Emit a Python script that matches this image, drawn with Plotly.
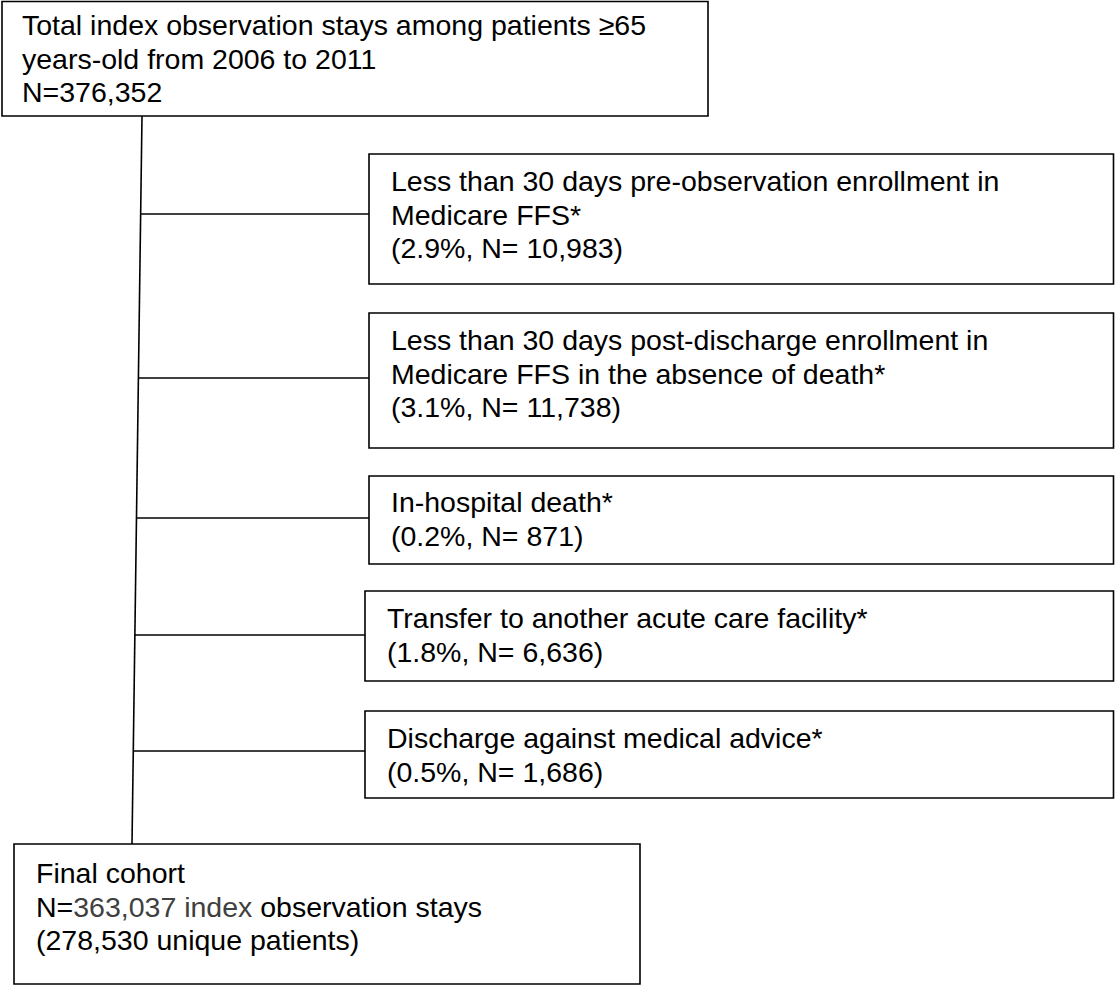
import plotly.graph_objects as go

# ---------------- data ----------------
total_lines = ["Total index observation stays among patients \u226565",
               "years-old from 2006 to 2011"]
total_n = "376,352"

exclusion_labels = [
    ["Less than 30 days pre-observation enrollment in", "Medicare FFS*"],
    ["Less than 30 days post-discharge enrollment in", "Medicare FFS in the absence of death*"],
    ["In-hospital death*"],
    ["Transfer to another acute care facility*"],
    ["Discharge against medical advice*"],
]
exclusion_pct = ["2.9%", "3.1%", "0.2%", "1.8%", "0.5%"]
exclusion_n = ["10,983", "11,738", "871", "6,636", "1,686"]

final_label = "Final cohort"
final_n = "363,037"
final_unique = "278,530"

# ---------------- layout geometry (page pixels) ----------------
W, H = 1115, 986
FONT = 28.5
LINE = 33.5
top_box = (2, 1.5, 708, 116)
top_text = (21, 35)
excl_boxes = [(369, 154, 1113.5, 284), (369, 313, 1113.5, 448), (369, 476, 1113.5, 564),
              (365, 591, 1113.5, 681), (365, 711, 1113.5, 798)]
excl_text = [(390, 191), (390, 350), (390, 512), (386, 628), (386, 748)]
branch_y = [214, 378, 518, 635, 751]
final_box = (14, 844, 640, 984)
final_text = (35, 883)
trunk = ((142, 116), (132, 844))


def trunk_x(y):
    (x0, y0), (x1, y1) = trunk
    return x0 + (x1 - x0) * (y - y0) / (y1 - y0)


fig = go.Figure()
shapes = []
annotations = []
font_family = "Arial, Liberation Sans, sans-serif"


def rect(b):
    shapes.append(dict(type="rect", xref="x", yref="y", x0=b[0], y0=b[1], x1=b[2], y1=b[3],
                       line=dict(color="black", width=1.6), fillcolor="white", layer="below"))


def line(x0, y0, x1, y1):
    shapes.append(dict(type="line", xref="x", yref="y", x0=x0, y0=y0, x1=x1, y1=y1,
                       line=dict(color="black", width=1.6), layer="below"))


def text_lines(x, baseline, lines):
    for i, t in enumerate(lines):
        annotations.append(dict(x=x, y=baseline + i * LINE - 0.347 * FONT, xref="x", yref="y",
                                text=t, showarrow=False, xanchor="left", yanchor="middle",
                                borderpad=0, font=dict(family=font_family, size=FONT, color="black")))


# trunk
line(trunk[0][0], trunk[0][1], trunk[1][0], trunk[1][1])
# top box
rect(top_box)
text_lines(top_text[0], top_text[1], total_lines + ["N=" + total_n])
# exclusions
for i in range(len(exclusion_labels)):
    b = excl_boxes[i]
    line(trunk_x(branch_y[i]), branch_y[i], b[0], branch_y[i])
    rect(b)
    lines = exclusion_labels[i] + ["(" + exclusion_pct[i] + ", N= " + exclusion_n[i] + ")"]
    text_lines(excl_text[i][0], excl_text[i][1], lines)
# final box
rect(final_box)
text_lines(final_text[0], final_text[1],
           [final_label,
            "N=<span style='color:#404040'>" + final_n + " index</span> observation stays",
            "(" + final_unique + " unique patients)"])

fig.update_layout(
    width=W, height=H, margin=dict(l=0, r=0, t=0, b=0),
    paper_bgcolor="white", plot_bgcolor="white",
    shapes=shapes, annotations=annotations, showlegend=False,
    xaxis=dict(range=[0, W], visible=False, fixedrange=True),
    yaxis=dict(range=[H, 0], visible=False, fixedrange=True),
)
fig.write_html("out.html", config={"displayModeBar": False},
               post_script="document.body.style.margin='0px';document.body.style.overflow='hidden';")
